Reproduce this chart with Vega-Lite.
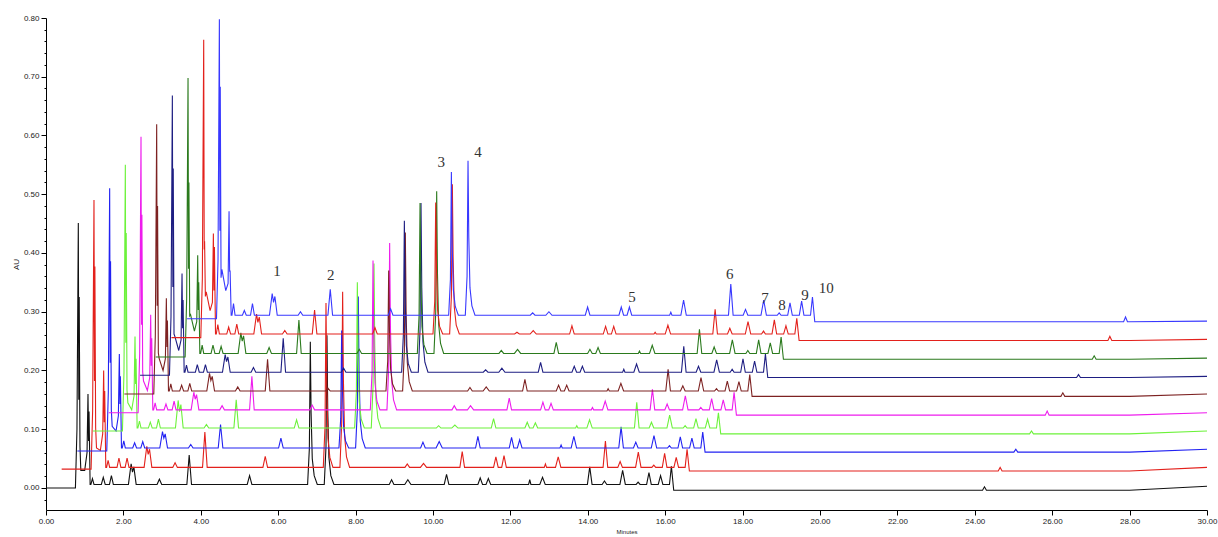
{
"$schema":"https://vega.github.io/schema/vega-lite/v6.json",
"width":1161,"height":492,
"autosize":{"type":"none"},
"padding":{"left":46,"top":18,"right":11,"bottom":27},
"background":"white",
"config":{"view":{"stroke":null},"axis":{"labelFont":"Liberation Sans","titleFont":"Liberation Sans","labelOverlap":false}},
"resolve":{"axis":{"y":"independent"}},
"layer":[
{"data":{"values":[
{"k":0,"t":0,"v":0},{"k":0,"t":0.76,"v":0},{"k":0,"t":0.8,"v":0.1},{"k":0,"t":0.835,"v":0.451},{"k":0,"t":0.848,"v":0.15},{"k":0,"t":0.858,"v":0.325},{"k":0,"t":0.878,"v":0.07},{"k":0,"t":0.9,"v":0.03},{"k":0,"t":1.0,"v":0.03},{"k":0,"t":1.06,"v":0.06},{"k":0,"t":1.085,"v":0.16},{"k":0,"t":1.1,"v":0.08},{"k":0,"t":1.112,"v":0.13},{"k":0,"t":1.14,"v":0.006},
{"k":0,"t":1.16,"v":0.006},{"k":0,"t":1.2,"v":0.016},{"k":0,"t":1.24,"v":0.006},{"k":0,"t":1.43,"v":0.006},{"k":0,"t":1.48,"v":0.018},{"k":0,"t":1.53,"v":0.006},{"k":0,"t":1.64,"v":0.006},{"k":0,"t":1.69,"v":0.021},{"k":0,"t":1.74,"v":0.006},
{"k":0,"t":2.13,"v":0.006},{"k":0,"t":2.2,"v":0.041},{"k":0,"t":2.235,"v":0.027},{"k":0,"t":2.27,"v":0.036},{"k":0,"t":2.33,"v":0.006},{"k":0,"t":2.87,"v":0.006},{"k":0,"t":2.93,"v":0.015},{"k":0,"t":2.99,"v":0.006},{"k":0,"t":3.64,"v":0.006},{"k":0,"t":3.7,"v":0.056},{"k":0,"t":3.76,"v":0.006},{"k":0,"t":5.2,"v":0.006},{"k":0,"t":5.26,"v":0.021},{"k":0,"t":5.32,"v":0.006},
{"k":0,"t":6.76,"v":0.006},{"k":0,"t":6.805,"v":0.067},{"k":0,"t":6.83,"v":0.249},{"k":0,"t":6.85,"v":0.128},{"k":0,"t":6.88,"v":0.05},{"k":0,"t":6.93,"v":0.021},{"k":0,"t":7.01,"v":0.006},
{"k":0,"t":7.19,"v":0.006},{"k":0,"t":7.235,"v":0.07},{"k":0,"t":7.26,"v":0.26},{"k":0,"t":7.28,"v":0.133},{"k":0,"t":7.31,"v":0.052},{"k":0,"t":7.36,"v":0.021},{"k":0,"t":7.44,"v":0.006},
{"k":0,"t":8.87,"v":0.006},{"k":0,"t":8.93,"v":0.014},{"k":0,"t":8.99,"v":0.006},{"k":0,"t":9.27,"v":0.006},{"k":0,"t":9.35,"v":0.014},{"k":0,"t":9.43,"v":0.006},{"k":0,"t":10.29,"v":0.006},{"k":0,"t":10.35,"v":0.023},{"k":0,"t":10.41,"v":0.006},{"k":0,"t":11.16,"v":0.006},{"k":0,"t":11.22,"v":0.017},{"k":0,"t":11.28,"v":0.006},{"k":0,"t":11.37,"v":0.006},{"k":0,"t":11.43,"v":0.016},{"k":0,"t":11.49,"v":0.006},
{"k":0,"t":12.47,"v":0.006},{"k":0,"t":12.5,"v":0.014},{"k":0,"t":12.53,"v":0.006},{"k":0,"t":12.76,"v":0.006},{"k":0,"t":12.83,"v":0.018},{"k":0,"t":12.9,"v":0.006},{"k":0,"t":13.99,"v":0.006},{"k":0,"t":14.05,"v":0.036},{"k":0,"t":14.11,"v":0.006},{"k":0,"t":14.37,"v":0.006},{"k":0,"t":14.43,"v":0.012},{"k":0,"t":14.49,"v":0.006},{"k":0,"t":14.83,"v":0.006},{"k":0,"t":14.9,"v":0.03},{"k":0,"t":14.97,"v":0.006},
{"k":0,"t":15.25,"v":0.006},{"k":0,"t":15.3,"v":0.01},{"k":0,"t":15.35,"v":0.006},{"k":0,"t":15.52,"v":0.006},{"k":0,"t":15.58,"v":0.026},{"k":0,"t":15.64,"v":0.006},{"k":0,"t":15.82,"v":0.006},{"k":0,"t":15.88,"v":0.021},{"k":0,"t":15.94,"v":0.006},{"k":0,"t":16.11,"v":0.006},{"k":0,"t":16.16,"v":0.037},{"k":0,"t":16.22,"v":-0.004},
{"k":0,"t":24.2,"v":-0.004},{"k":0,"t":24.25,"v":0.002},{"k":0,"t":24.3,"v":-0.004},{"k":0,"t":28,"v":-0.004},{"k":0,"t":30,"v":0.003},

{"k":1,"t":0.405,"v":0.032},{"k":1,"t":1.165,"v":0.032},{"k":1,"t":1.205,"v":0.132},{"k":1,"t":1.24,"v":0.49},{"k":1,"t":1.253,"v":0.182},{"k":1,"t":1.263,"v":0.377},{"k":1,"t":1.283,"v":0.102},{"k":1,"t":1.305,"v":0.068},{"k":1,"t":1.405,"v":0.064},{"k":1,"t":1.465,"v":0.092},{"k":1,"t":1.49,"v":0.2},{"k":1,"t":1.505,"v":0.112},{"k":1,"t":1.517,"v":0.165},{"k":1,"t":1.545,"v":0.035},
{"k":1,"t":1.565,"v":0.035},{"k":1,"t":1.605,"v":0.047},{"k":1,"t":1.645,"v":0.035},{"k":1,"t":1.835,"v":0.035},{"k":1,"t":1.885,"v":0.051},{"k":1,"t":1.935,"v":0.035},{"k":1,"t":2.045,"v":0.035},{"k":1,"t":2.095,"v":0.051},{"k":1,"t":2.145,"v":0.035},
{"k":1,"t":2.535,"v":0.035},{"k":1,"t":2.605,"v":0.071},{"k":1,"t":2.64,"v":0.057},{"k":1,"t":2.675,"v":0.066},{"k":1,"t":2.735,"v":0.035},{"k":1,"t":3.275,"v":0.035},{"k":1,"t":3.335,"v":0.043},{"k":1,"t":3.395,"v":0.035},{"k":1,"t":4.045,"v":0.035},{"k":1,"t":4.105,"v":0.095},{"k":1,"t":4.165,"v":0.035},{"k":1,"t":5.605,"v":0.035},{"k":1,"t":5.665,"v":0.054},{"k":1,"t":5.725,"v":0.035},
{"k":1,"t":7.165,"v":0.035},{"k":1,"t":7.21,"v":0.105},{"k":1,"t":7.235,"v":0.315},{"k":1,"t":7.255,"v":0.175},{"k":1,"t":7.285,"v":0.085},{"k":1,"t":7.335,"v":0.052},{"k":1,"t":7.415,"v":0.035},
{"k":1,"t":7.595,"v":0.035},{"k":1,"t":7.64,"v":0.11},{"k":1,"t":7.665,"v":0.334},{"k":1,"t":7.685,"v":0.184},{"k":1,"t":7.715,"v":0.089},{"k":1,"t":7.765,"v":0.053},{"k":1,"t":7.845,"v":0.035},
{"k":1,"t":9.275,"v":0.035},{"k":1,"t":9.335,"v":0.041},{"k":1,"t":9.395,"v":0.035},{"k":1,"t":9.675,"v":0.035},{"k":1,"t":9.755,"v":0.042},{"k":1,"t":9.835,"v":0.035},{"k":1,"t":10.695,"v":0.035},{"k":1,"t":10.755,"v":0.062},{"k":1,"t":10.815,"v":0.035},{"k":1,"t":11.565,"v":0.035},{"k":1,"t":11.625,"v":0.053},{"k":1,"t":11.685,"v":0.035},{"k":1,"t":11.775,"v":0.035},{"k":1,"t":11.835,"v":0.055},{"k":1,"t":11.895,"v":0.035},
{"k":1,"t":12.875,"v":0.035},{"k":1,"t":12.905,"v":0.041},{"k":1,"t":12.935,"v":0.035},{"k":1,"t":13.165,"v":0.035},{"k":1,"t":13.235,"v":0.053},{"k":1,"t":13.305,"v":0.035},{"k":1,"t":14.395,"v":0.035},{"k":1,"t":14.455,"v":0.08},{"k":1,"t":14.515,"v":0.035},{"k":1,"t":14.775,"v":0.035},{"k":1,"t":14.835,"v":0.045},{"k":1,"t":14.895,"v":0.035},{"k":1,"t":15.235,"v":0.035},{"k":1,"t":15.305,"v":0.061},{"k":1,"t":15.375,"v":0.035},
{"k":1,"t":15.655,"v":0.035},{"k":1,"t":15.705,"v":0.039},{"k":1,"t":15.755,"v":0.035},{"k":1,"t":15.925,"v":0.035},{"k":1,"t":15.985,"v":0.059},{"k":1,"t":16.045,"v":0.035},{"k":1,"t":16.225,"v":0.035},{"k":1,"t":16.285,"v":0.052},{"k":1,"t":16.345,"v":0.035},{"k":1,"t":16.515,"v":0.035},{"k":1,"t":16.565,"v":0.066},{"k":1,"t":16.625,"v":0.029},
{"k":1,"t":24.605,"v":0.029},{"k":1,"t":24.655,"v":0.035},{"k":1,"t":24.705,"v":0.029},{"k":1,"t":28,"v":0.029},{"k":1,"t":30,"v":0.035},

{"k":2,"t":0.81,"v":0.063},{"k":2,"t":1.57,"v":0.063},{"k":2,"t":1.61,"v":0.163},{"k":2,"t":1.645,"v":0.51},{"k":2,"t":1.658,"v":0.213},{"k":2,"t":1.668,"v":0.386},{"k":2,"t":1.688,"v":0.133},{"k":2,"t":1.71,"v":0.105},{"k":2,"t":1.81,"v":0.097},{"k":2,"t":1.87,"v":0.123},{"k":2,"t":1.895,"v":0.228},{"k":2,"t":1.91,"v":0.143},{"k":2,"t":1.922,"v":0.19},{"k":2,"t":1.95,"v":0.068},
{"k":2,"t":1.97,"v":0.068},{"k":2,"t":2.01,"v":0.08},{"k":2,"t":2.05,"v":0.068},{"k":2,"t":2.24,"v":0.068},{"k":2,"t":2.29,"v":0.077},{"k":2,"t":2.34,"v":0.068},{"k":2,"t":2.45,"v":0.068},{"k":2,"t":2.5,"v":0.079},{"k":2,"t":2.55,"v":0.068},
{"k":2,"t":2.94,"v":0.068},{"k":2,"t":3.01,"v":0.096},{"k":2,"t":3.045,"v":0.085},{"k":2,"t":3.08,"v":0.092},{"k":2,"t":3.14,"v":0.068},{"k":2,"t":3.68,"v":0.068},{"k":2,"t":3.74,"v":0.074},{"k":2,"t":3.8,"v":0.068},{"k":2,"t":4.45,"v":0.068},{"k":2,"t":4.51,"v":0.108},{"k":2,"t":4.57,"v":0.068},{"k":2,"t":6.01,"v":0.068},{"k":2,"t":6.07,"v":0.085},{"k":2,"t":6.13,"v":0.068},
{"k":2,"t":7.57,"v":0.068},{"k":2,"t":7.615,"v":0.118},{"k":2,"t":7.64,"v":0.268},{"k":2,"t":7.66,"v":0.168},{"k":2,"t":7.69,"v":0.104},{"k":2,"t":7.74,"v":0.08},{"k":2,"t":7.82,"v":0.068},
{"k":2,"t":8.0,"v":0.068},{"k":2,"t":8.045,"v":0.133},{"k":2,"t":8.07,"v":0.326},{"k":2,"t":8.09,"v":0.197},{"k":2,"t":8.12,"v":0.114},{"k":2,"t":8.17,"v":0.084},{"k":2,"t":8.25,"v":0.068},
{"k":2,"t":9.68,"v":0.068},{"k":2,"t":9.74,"v":0.078},{"k":2,"t":9.8,"v":0.068},{"k":2,"t":10.08,"v":0.068},{"k":2,"t":10.16,"v":0.079},{"k":2,"t":10.24,"v":0.068},{"k":2,"t":11.1,"v":0.068},{"k":2,"t":11.16,"v":0.088},{"k":2,"t":11.22,"v":0.068},{"k":2,"t":11.97,"v":0.068},{"k":2,"t":12.03,"v":0.086},{"k":2,"t":12.09,"v":0.068},{"k":2,"t":12.18,"v":0.068},{"k":2,"t":12.24,"v":0.082},{"k":2,"t":12.3,"v":0.068},
{"k":2,"t":13.28,"v":0.068},{"k":2,"t":13.31,"v":0.073},{"k":2,"t":13.34,"v":0.068},{"k":2,"t":13.57,"v":0.068},{"k":2,"t":13.64,"v":0.088},{"k":2,"t":13.71,"v":0.068},{"k":2,"t":14.8,"v":0.068},{"k":2,"t":14.86,"v":0.104},{"k":2,"t":14.92,"v":0.068},{"k":2,"t":15.18,"v":0.068},{"k":2,"t":15.24,"v":0.078},{"k":2,"t":15.3,"v":0.068},{"k":2,"t":15.64,"v":0.068},{"k":2,"t":15.71,"v":0.089},{"k":2,"t":15.78,"v":0.068},
{"k":2,"t":16.06,"v":0.068},{"k":2,"t":16.11,"v":0.072},{"k":2,"t":16.16,"v":0.068},{"k":2,"t":16.33,"v":0.068},{"k":2,"t":16.39,"v":0.087},{"k":2,"t":16.45,"v":0.068},{"k":2,"t":16.63,"v":0.068},{"k":2,"t":16.69,"v":0.085},{"k":2,"t":16.75,"v":0.068},{"k":2,"t":16.92,"v":0.068},{"k":2,"t":16.97,"v":0.095},{"k":2,"t":17.03,"v":0.061},
{"k":2,"t":25.01,"v":0.061},{"k":2,"t":25.06,"v":0.066},{"k":2,"t":25.11,"v":0.061},{"k":2,"t":28,"v":0.061},{"k":2,"t":30,"v":0.066},

{"k":3,"t":1.215,"v":0.097},{"k":3,"t":1.975,"v":0.097},{"k":3,"t":2.015,"v":0.197},{"k":3,"t":2.05,"v":0.55},{"k":3,"t":2.063,"v":0.247},{"k":3,"t":2.073,"v":0.434},{"k":3,"t":2.093,"v":0.167},{"k":3,"t":2.115,"v":0.145},{"k":3,"t":2.215,"v":0.133},{"k":3,"t":2.275,"v":0.157},{"k":3,"t":2.3,"v":0.258},{"k":3,"t":2.315,"v":0.177},{"k":3,"t":2.327,"v":0.22},{"k":3,"t":2.355,"v":0.102},
{"k":3,"t":2.375,"v":0.102},{"k":3,"t":2.415,"v":0.114},{"k":3,"t":2.455,"v":0.102},{"k":3,"t":2.645,"v":0.102},{"k":3,"t":2.695,"v":0.112},{"k":3,"t":2.745,"v":0.102},{"k":3,"t":2.855,"v":0.102},{"k":3,"t":2.905,"v":0.117},{"k":3,"t":2.955,"v":0.102},
{"k":3,"t":3.345,"v":0.102},{"k":3,"t":3.415,"v":0.149},{"k":3,"t":3.45,"v":0.13},{"k":3,"t":3.485,"v":0.142},{"k":3,"t":3.545,"v":0.102},{"k":3,"t":4.085,"v":0.102},{"k":3,"t":4.145,"v":0.108},{"k":3,"t":4.205,"v":0.102},{"k":3,"t":4.855,"v":0.102},{"k":3,"t":4.915,"v":0.15},{"k":3,"t":4.975,"v":0.102},{"k":3,"t":6.415,"v":0.102},{"k":3,"t":6.475,"v":0.116},{"k":3,"t":6.535,"v":0.102},
{"k":3,"t":7.975,"v":0.102},{"k":3,"t":8.02,"v":0.164},{"k":3,"t":8.045,"v":0.35},{"k":3,"t":8.065,"v":0.226},{"k":3,"t":8.095,"v":0.147},{"k":3,"t":8.145,"v":0.117},{"k":3,"t":8.225,"v":0.102},
{"k":3,"t":8.405,"v":0.102},{"k":3,"t":8.45,"v":0.172},{"k":3,"t":8.475,"v":0.382},{"k":3,"t":8.495,"v":0.242},{"k":3,"t":8.525,"v":0.152},{"k":3,"t":8.575,"v":0.119},{"k":3,"t":8.655,"v":0.102},
{"k":3,"t":10.085,"v":0.102},{"k":3,"t":10.145,"v":0.106},{"k":3,"t":10.205,"v":0.102},{"k":3,"t":10.485,"v":0.102},{"k":3,"t":10.565,"v":0.107},{"k":3,"t":10.645,"v":0.102},{"k":3,"t":11.505,"v":0.102},{"k":3,"t":11.565,"v":0.118},{"k":3,"t":11.625,"v":0.102},{"k":3,"t":12.375,"v":0.102},{"k":3,"t":12.435,"v":0.112},{"k":3,"t":12.495,"v":0.102},{"k":3,"t":12.585,"v":0.102},{"k":3,"t":12.645,"v":0.111},{"k":3,"t":12.705,"v":0.102},
{"k":3,"t":13.685,"v":0.102},{"k":3,"t":13.715,"v":0.106},{"k":3,"t":13.745,"v":0.102},{"k":3,"t":13.975,"v":0.102},{"k":3,"t":14.045,"v":0.116},{"k":3,"t":14.115,"v":0.102},{"k":3,"t":15.205,"v":0.102},{"k":3,"t":15.265,"v":0.146},{"k":3,"t":15.325,"v":0.102},{"k":3,"t":15.585,"v":0.102},{"k":3,"t":15.645,"v":0.112},{"k":3,"t":15.705,"v":0.102},{"k":3,"t":16.045,"v":0.102},{"k":3,"t":16.115,"v":0.124},{"k":3,"t":16.185,"v":0.102},
{"k":3,"t":16.465,"v":0.102},{"k":3,"t":16.515,"v":0.106},{"k":3,"t":16.565,"v":0.102},{"k":3,"t":16.735,"v":0.102},{"k":3,"t":16.795,"v":0.118},{"k":3,"t":16.855,"v":0.102},{"k":3,"t":17.035,"v":0.102},{"k":3,"t":17.095,"v":0.117},{"k":3,"t":17.155,"v":0.102},{"k":3,"t":17.325,"v":0.102},{"k":3,"t":17.375,"v":0.128},{"k":3,"t":17.435,"v":0.092},
{"k":3,"t":25.415,"v":0.092},{"k":3,"t":25.465,"v":0.097},{"k":3,"t":25.515,"v":0.092},{"k":3,"t":28,"v":0.092},{"k":3,"t":30,"v":0.097},

{"k":4,"t":1.62,"v":0.128},{"k":4,"t":2.38,"v":0.128},{"k":4,"t":2.42,"v":0.228},{"k":4,"t":2.455,"v":0.598},{"k":4,"t":2.468,"v":0.278},{"k":4,"t":2.478,"v":0.465},{"k":4,"t":2.498,"v":0.198},{"k":4,"t":2.52,"v":0.182},{"k":4,"t":2.62,"v":0.166},{"k":4,"t":2.68,"v":0.188},{"k":4,"t":2.705,"v":0.295},{"k":4,"t":2.72,"v":0.208},{"k":4,"t":2.732,"v":0.255},{"k":4,"t":2.76,"v":0.133},
{"k":4,"t":2.78,"v":0.133},{"k":4,"t":2.82,"v":0.145},{"k":4,"t":2.86,"v":0.133},{"k":4,"t":3.05,"v":0.133},{"k":4,"t":3.1,"v":0.143},{"k":4,"t":3.15,"v":0.133},{"k":4,"t":3.26,"v":0.133},{"k":4,"t":3.31,"v":0.148},{"k":4,"t":3.36,"v":0.133},
{"k":4,"t":3.75,"v":0.133},{"k":4,"t":3.82,"v":0.163},{"k":4,"t":3.855,"v":0.151},{"k":4,"t":3.89,"v":0.159},{"k":4,"t":3.95,"v":0.133},{"k":4,"t":4.49,"v":0.133},{"k":4,"t":4.55,"v":0.14},{"k":4,"t":4.61,"v":0.133},{"k":4,"t":5.26,"v":0.133},{"k":4,"t":5.32,"v":0.19},{"k":4,"t":5.38,"v":0.133},{"k":4,"t":6.82,"v":0.133},{"k":4,"t":6.88,"v":0.141},{"k":4,"t":6.94,"v":0.133},
{"k":4,"t":8.38,"v":0.133},{"k":4,"t":8.425,"v":0.197},{"k":4,"t":8.45,"v":0.387},{"k":4,"t":8.47,"v":0.26},{"k":4,"t":8.5,"v":0.179},{"k":4,"t":8.55,"v":0.148},{"k":4,"t":8.63,"v":0.133},
{"k":4,"t":8.81,"v":0.133},{"k":4,"t":8.855,"v":0.204},{"k":4,"t":8.88,"v":0.417},{"k":4,"t":8.9,"v":0.275},{"k":4,"t":8.93,"v":0.184},{"k":4,"t":8.98,"v":0.15},{"k":4,"t":9.06,"v":0.133},
{"k":4,"t":10.49,"v":0.133},{"k":4,"t":10.55,"v":0.14},{"k":4,"t":10.61,"v":0.133},{"k":4,"t":10.89,"v":0.133},{"k":4,"t":10.97,"v":0.14},{"k":4,"t":11.05,"v":0.133},{"k":4,"t":11.91,"v":0.133},{"k":4,"t":11.97,"v":0.153},{"k":4,"t":12.03,"v":0.133},{"k":4,"t":12.78,"v":0.133},{"k":4,"t":12.84,"v":0.146},{"k":4,"t":12.9,"v":0.133},{"k":4,"t":12.99,"v":0.133},{"k":4,"t":13.05,"v":0.144},{"k":4,"t":13.11,"v":0.133},
{"k":4,"t":14.09,"v":0.133},{"k":4,"t":14.12,"v":0.137},{"k":4,"t":14.15,"v":0.133},{"k":4,"t":14.38,"v":0.133},{"k":4,"t":14.45,"v":0.148},{"k":4,"t":14.52,"v":0.133},{"k":4,"t":15.61,"v":0.133},{"k":4,"t":15.67,"v":0.168},{"k":4,"t":15.73,"v":0.133},{"k":4,"t":15.99,"v":0.133},{"k":4,"t":16.05,"v":0.143},{"k":4,"t":16.11,"v":0.133},{"k":4,"t":16.45,"v":0.133},{"k":4,"t":16.52,"v":0.157},{"k":4,"t":16.59,"v":0.133},
{"k":4,"t":16.87,"v":0.133},{"k":4,"t":16.92,"v":0.137},{"k":4,"t":16.97,"v":0.133},{"k":4,"t":17.14,"v":0.133},{"k":4,"t":17.2,"v":0.152},{"k":4,"t":17.26,"v":0.133},{"k":4,"t":17.44,"v":0.133},{"k":4,"t":17.5,"v":0.15},{"k":4,"t":17.56,"v":0.133},{"k":4,"t":17.73,"v":0.133},{"k":4,"t":17.78,"v":0.163},{"k":4,"t":17.84,"v":0.124},
{"k":4,"t":25.82,"v":0.124},{"k":4,"t":25.87,"v":0.131},{"k":4,"t":25.92,"v":0.124},{"k":4,"t":28,"v":0.124},{"k":4,"t":30,"v":0.128},

{"k":5,"t":2.025,"v":0.16},{"k":5,"t":2.785,"v":0.16},{"k":5,"t":2.825,"v":0.26},{"k":5,"t":2.86,"v":0.619},{"k":5,"t":2.873,"v":0.31},{"k":5,"t":2.883,"v":0.48},{"k":5,"t":2.903,"v":0.23},{"k":5,"t":2.925,"v":0.22},{"k":5,"t":3.025,"v":0.2},{"k":5,"t":3.085,"v":0.22},{"k":5,"t":3.11,"v":0.323},{"k":5,"t":3.125,"v":0.24},{"k":5,"t":3.137,"v":0.285},{"k":5,"t":3.165,"v":0.165},
{"k":5,"t":3.185,"v":0.165},{"k":5,"t":3.225,"v":0.177},{"k":5,"t":3.265,"v":0.165},{"k":5,"t":3.455,"v":0.165},{"k":5,"t":3.505,"v":0.175},{"k":5,"t":3.555,"v":0.165},{"k":5,"t":3.665,"v":0.165},{"k":5,"t":3.715,"v":0.178},{"k":5,"t":3.765,"v":0.165},
{"k":5,"t":4.155,"v":0.165},{"k":5,"t":4.225,"v":0.195},{"k":5,"t":4.26,"v":0.183},{"k":5,"t":4.295,"v":0.19},{"k":5,"t":4.355,"v":0.165},{"k":5,"t":4.895,"v":0.165},{"k":5,"t":4.955,"v":0.172},{"k":5,"t":5.015,"v":0.165},{"k":5,"t":5.665,"v":0.165},{"k":5,"t":5.725,"v":0.219},{"k":5,"t":5.785,"v":0.165},{"k":5,"t":7.225,"v":0.165},{"k":5,"t":7.285,"v":0.17},{"k":5,"t":7.345,"v":0.165},
{"k":5,"t":8.785,"v":0.165},{"k":5,"t":8.83,"v":0.216},{"k":5,"t":8.855,"v":0.37},{"k":5,"t":8.875,"v":0.268},{"k":5,"t":8.905,"v":0.202},{"k":5,"t":8.955,"v":0.177},{"k":5,"t":9.035,"v":0.165},
{"k":5,"t":9.215,"v":0.165},{"k":5,"t":9.26,"v":0.233},{"k":5,"t":9.285,"v":0.435},{"k":5,"t":9.305,"v":0.3},{"k":5,"t":9.335,"v":0.214},{"k":5,"t":9.385,"v":0.181},{"k":5,"t":9.465,"v":0.165},
{"k":5,"t":10.895,"v":0.165},{"k":5,"t":10.955,"v":0.171},{"k":5,"t":11.015,"v":0.165},{"k":5,"t":11.295,"v":0.165},{"k":5,"t":11.375,"v":0.172},{"k":5,"t":11.455,"v":0.165},{"k":5,"t":12.315,"v":0.165},{"k":5,"t":12.375,"v":0.185},{"k":5,"t":12.435,"v":0.165},{"k":5,"t":13.185,"v":0.165},{"k":5,"t":13.245,"v":0.175},{"k":5,"t":13.305,"v":0.165},{"k":5,"t":13.395,"v":0.165},{"k":5,"t":13.455,"v":0.175},{"k":5,"t":13.515,"v":0.165},
{"k":5,"t":14.495,"v":0.165},{"k":5,"t":14.525,"v":0.169},{"k":5,"t":14.555,"v":0.165},{"k":5,"t":14.785,"v":0.165},{"k":5,"t":14.855,"v":0.178},{"k":5,"t":14.925,"v":0.165},{"k":5,"t":16.015,"v":0.165},{"k":5,"t":16.075,"v":0.202},{"k":5,"t":16.135,"v":0.165},{"k":5,"t":16.395,"v":0.165},{"k":5,"t":16.455,"v":0.174},{"k":5,"t":16.515,"v":0.165},{"k":5,"t":16.855,"v":0.165},{"k":5,"t":16.925,"v":0.188},{"k":5,"t":16.995,"v":0.165},
{"k":5,"t":17.275,"v":0.165},{"k":5,"t":17.325,"v":0.169},{"k":5,"t":17.375,"v":0.165},{"k":5,"t":17.545,"v":0.165},{"k":5,"t":17.605,"v":0.182},{"k":5,"t":17.665,"v":0.165},{"k":5,"t":17.845,"v":0.165},{"k":5,"t":17.905,"v":0.181},{"k":5,"t":17.965,"v":0.165},{"k":5,"t":18.135,"v":0.165},{"k":5,"t":18.185,"v":0.193},{"k":5,"t":18.245,"v":0.156},
{"k":5,"t":26.225,"v":0.156},{"k":5,"t":26.275,"v":0.162},{"k":5,"t":26.325,"v":0.156},{"k":5,"t":28,"v":0.156},{"k":5,"t":30,"v":0.16},

{"k":6,"t":2.43,"v":0.192},{"k":6,"t":3.19,"v":0.192},{"k":6,"t":3.23,"v":0.292},{"k":6,"t":3.265,"v":0.668},{"k":6,"t":3.278,"v":0.342},{"k":6,"t":3.288,"v":0.544},{"k":6,"t":3.308,"v":0.262},{"k":6,"t":3.33,"v":0.258},{"k":6,"t":3.43,"v":0.234},{"k":6,"t":3.49,"v":0.252},{"k":6,"t":3.515,"v":0.365},{"k":6,"t":3.53,"v":0.272},{"k":6,"t":3.542,"v":0.32},{"k":6,"t":3.57,"v":0.197},
{"k":6,"t":3.59,"v":0.197},{"k":6,"t":3.63,"v":0.209},{"k":6,"t":3.67,"v":0.197},{"k":6,"t":3.86,"v":0.197},{"k":6,"t":3.91,"v":0.21},{"k":6,"t":3.96,"v":0.197},{"k":6,"t":4.07,"v":0.197},{"k":6,"t":4.12,"v":0.21},{"k":6,"t":4.17,"v":0.197},
{"k":6,"t":4.56,"v":0.197},{"k":6,"t":4.63,"v":0.227},{"k":6,"t":4.665,"v":0.215},{"k":6,"t":4.7,"v":0.223},{"k":6,"t":4.76,"v":0.197},{"k":6,"t":5.3,"v":0.197},{"k":6,"t":5.36,"v":0.205},{"k":6,"t":5.42,"v":0.197},{"k":6,"t":6.07,"v":0.197},{"k":6,"t":6.13,"v":0.255},{"k":6,"t":6.19,"v":0.197},{"k":6,"t":7.63,"v":0.197},{"k":6,"t":7.69,"v":0.204},{"k":6,"t":7.75,"v":0.197},
{"k":6,"t":9.19,"v":0.197},{"k":6,"t":9.235,"v":0.262},{"k":6,"t":9.26,"v":0.455},{"k":6,"t":9.28,"v":0.326},{"k":6,"t":9.31,"v":0.243},{"k":6,"t":9.36,"v":0.212},{"k":6,"t":9.44,"v":0.197},
{"k":6,"t":9.62,"v":0.197},{"k":6,"t":9.665,"v":0.269},{"k":6,"t":9.69,"v":0.485},{"k":6,"t":9.71,"v":0.341},{"k":6,"t":9.74,"v":0.249},{"k":6,"t":9.79,"v":0.214},{"k":6,"t":9.87,"v":0.197},
{"k":6,"t":11.3,"v":0.197},{"k":6,"t":11.36,"v":0.201},{"k":6,"t":11.42,"v":0.197},{"k":6,"t":11.7,"v":0.197},{"k":6,"t":11.78,"v":0.204},{"k":6,"t":11.86,"v":0.197},{"k":6,"t":12.72,"v":0.197},{"k":6,"t":12.78,"v":0.214},{"k":6,"t":12.84,"v":0.197},{"k":6,"t":13.59,"v":0.197},{"k":6,"t":13.65,"v":0.207},{"k":6,"t":13.71,"v":0.197},{"k":6,"t":13.8,"v":0.197},{"k":6,"t":13.86,"v":0.207},{"k":6,"t":13.92,"v":0.197},
{"k":6,"t":14.9,"v":0.197},{"k":6,"t":14.93,"v":0.202},{"k":6,"t":14.96,"v":0.197},{"k":6,"t":15.19,"v":0.197},{"k":6,"t":15.26,"v":0.211},{"k":6,"t":15.33,"v":0.197},{"k":6,"t":16.42,"v":0.197},{"k":6,"t":16.48,"v":0.241},{"k":6,"t":16.54,"v":0.197},{"k":6,"t":16.8,"v":0.197},{"k":6,"t":16.86,"v":0.207},{"k":6,"t":16.92,"v":0.197},{"k":6,"t":17.26,"v":0.197},{"k":6,"t":17.33,"v":0.218},{"k":6,"t":17.4,"v":0.197},
{"k":6,"t":17.68,"v":0.197},{"k":6,"t":17.73,"v":0.202},{"k":6,"t":17.78,"v":0.197},{"k":6,"t":17.95,"v":0.197},{"k":6,"t":18.01,"v":0.22},{"k":6,"t":18.07,"v":0.197},{"k":6,"t":18.25,"v":0.197},{"k":6,"t":18.31,"v":0.216},{"k":6,"t":18.37,"v":0.197},{"k":6,"t":18.54,"v":0.197},{"k":6,"t":18.59,"v":0.228},{"k":6,"t":18.65,"v":0.188},
{"k":6,"t":26.63,"v":0.188},{"k":6,"t":26.68,"v":0.193},{"k":6,"t":26.73,"v":0.188},{"k":6,"t":28,"v":0.188},{"k":6,"t":30,"v":0.19},

{"k":7,"t":2.835,"v":0.223},{"k":7,"t":3.595,"v":0.223},{"k":7,"t":3.635,"v":0.323},{"k":7,"t":3.67,"v":0.698},{"k":7,"t":3.683,"v":0.373},{"k":7,"t":3.693,"v":0.52},{"k":7,"t":3.713,"v":0.293},{"k":7,"t":3.735,"v":0.295},{"k":7,"t":3.835,"v":0.267},{"k":7,"t":3.895,"v":0.283},{"k":7,"t":3.92,"v":0.396},{"k":7,"t":3.935,"v":0.303},{"k":7,"t":3.947,"v":0.35},{"k":7,"t":3.975,"v":0.229},
{"k":7,"t":3.995,"v":0.229},{"k":7,"t":4.035,"v":0.243},{"k":7,"t":4.075,"v":0.229},{"k":7,"t":4.265,"v":0.229},{"k":7,"t":4.315,"v":0.243},{"k":7,"t":4.365,"v":0.229},{"k":7,"t":4.475,"v":0.229},{"k":7,"t":4.525,"v":0.241},{"k":7,"t":4.575,"v":0.229},
{"k":7,"t":4.965,"v":0.229},{"k":7,"t":5.035,"v":0.264},{"k":7,"t":5.07,"v":0.25},{"k":7,"t":5.105,"v":0.259},{"k":7,"t":5.165,"v":0.229},{"k":7,"t":5.705,"v":0.229},{"k":7,"t":5.765,"v":0.239},{"k":7,"t":5.825,"v":0.229},{"k":7,"t":6.475,"v":0.229},{"k":7,"t":6.535,"v":0.286},{"k":7,"t":6.595,"v":0.229},{"k":7,"t":8.035,"v":0.229},{"k":7,"t":8.095,"v":0.236},{"k":7,"t":8.155,"v":0.229},
{"k":7,"t":9.595,"v":0.229},{"k":7,"t":9.64,"v":0.293},{"k":7,"t":9.665,"v":0.485},{"k":7,"t":9.685,"v":0.357},{"k":7,"t":9.715,"v":0.275},{"k":7,"t":9.765,"v":0.244},{"k":7,"t":9.845,"v":0.229},
{"k":7,"t":10.025,"v":0.229},{"k":7,"t":10.07,"v":0.298},{"k":7,"t":10.095,"v":0.505},{"k":7,"t":10.115,"v":0.367},{"k":7,"t":10.145,"v":0.279},{"k":7,"t":10.195,"v":0.246},{"k":7,"t":10.275,"v":0.229},
{"k":7,"t":11.705,"v":0.229},{"k":7,"t":11.765,"v":0.234},{"k":7,"t":11.825,"v":0.229},{"k":7,"t":12.105,"v":0.229},{"k":7,"t":12.185,"v":0.236},{"k":7,"t":12.265,"v":0.229},{"k":7,"t":13.125,"v":0.229},{"k":7,"t":13.185,"v":0.248},{"k":7,"t":13.245,"v":0.229},{"k":7,"t":13.995,"v":0.229},{"k":7,"t":14.055,"v":0.236},{"k":7,"t":14.115,"v":0.229},{"k":7,"t":14.205,"v":0.229},{"k":7,"t":14.265,"v":0.239},{"k":7,"t":14.325,"v":0.229},
{"k":7,"t":15.305,"v":0.229},{"k":7,"t":15.335,"v":0.233},{"k":7,"t":15.365,"v":0.229},{"k":7,"t":15.595,"v":0.229},{"k":7,"t":15.665,"v":0.243},{"k":7,"t":15.735,"v":0.229},{"k":7,"t":16.825,"v":0.229},{"k":7,"t":16.885,"v":0.27},{"k":7,"t":16.945,"v":0.229},{"k":7,"t":17.205,"v":0.229},{"k":7,"t":17.265,"v":0.24},{"k":7,"t":17.325,"v":0.229},{"k":7,"t":17.665,"v":0.229},{"k":7,"t":17.735,"v":0.252},{"k":7,"t":17.805,"v":0.229},
{"k":7,"t":18.085,"v":0.229},{"k":7,"t":18.135,"v":0.234},{"k":7,"t":18.185,"v":0.229},{"k":7,"t":18.355,"v":0.229},{"k":7,"t":18.415,"v":0.252},{"k":7,"t":18.475,"v":0.229},{"k":7,"t":18.655,"v":0.229},{"k":7,"t":18.715,"v":0.247},{"k":7,"t":18.775,"v":0.229},{"k":7,"t":18.945,"v":0.229},{"k":7,"t":18.995,"v":0.257},{"k":7,"t":19.055,"v":0.219},
{"k":7,"t":27.035,"v":0.219},{"k":7,"t":27.085,"v":0.225},{"k":7,"t":27.135,"v":0.219},{"k":7,"t":28,"v":0.219},{"k":7,"t":30,"v":0.221},

{"k":8,"t":3.24,"v":0.256},{"k":8,"t":4.0,"v":0.256},{"k":8,"t":4.04,"v":0.356},{"k":8,"t":4.075,"v":0.763},{"k":8,"t":4.088,"v":0.406},{"k":8,"t":4.098,"v":0.42},{"k":8,"t":4.118,"v":0.326},{"k":8,"t":4.14,"v":0.334},{"k":8,"t":4.24,"v":0.302},{"k":8,"t":4.3,"v":0.316},{"k":8,"t":4.325,"v":0.433},{"k":8,"t":4.34,"v":0.336},{"k":8,"t":4.352,"v":0.41},{"k":8,"t":4.38,"v":0.262},
{"k":8,"t":4.4,"v":0.262},{"k":8,"t":4.44,"v":0.278},{"k":8,"t":4.48,"v":0.262},{"k":8,"t":4.67,"v":0.262},{"k":8,"t":4.72,"v":0.274},{"k":8,"t":4.77,"v":0.262},{"k":8,"t":4.88,"v":0.262},{"k":8,"t":4.93,"v":0.279},{"k":8,"t":4.98,"v":0.262},
{"k":8,"t":5.37,"v":0.262},{"k":8,"t":5.44,"v":0.296},{"k":8,"t":5.475,"v":0.282},{"k":8,"t":5.51,"v":0.291},{"k":8,"t":5.57,"v":0.262},{"k":8,"t":6.11,"v":0.262},{"k":8,"t":6.17,"v":0.268},{"k":8,"t":6.23,"v":0.262},{"k":8,"t":6.88,"v":0.262},{"k":8,"t":6.94,"v":0.303},{"k":8,"t":7.0,"v":0.262},{"k":8,"t":8.44,"v":0.262},{"k":8,"t":8.5,"v":0.273},{"k":8,"t":8.56,"v":0.262},
{"k":8,"t":10.0,"v":0.262},{"k":8,"t":10.045,"v":0.318},{"k":8,"t":10.07,"v":0.486},{"k":8,"t":10.09,"v":0.374},{"k":8,"t":10.12,"v":0.302},{"k":8,"t":10.17,"v":0.275},{"k":8,"t":10.25,"v":0.262},
{"k":8,"t":10.43,"v":0.262},{"k":8,"t":10.475,"v":0.326},{"k":8,"t":10.5,"v":0.517},{"k":8,"t":10.52,"v":0.39},{"k":8,"t":10.55,"v":0.308},{"k":8,"t":10.6,"v":0.277},{"k":8,"t":10.68,"v":0.262},
{"k":8,"t":12.11,"v":0.262},{"k":8,"t":12.17,"v":0.265},{"k":8,"t":12.23,"v":0.262},{"k":8,"t":12.51,"v":0.262},{"k":8,"t":12.59,"v":0.268},{"k":8,"t":12.67,"v":0.262},{"k":8,"t":13.53,"v":0.262},{"k":8,"t":13.59,"v":0.276},{"k":8,"t":13.65,"v":0.262},{"k":8,"t":14.4,"v":0.262},{"k":8,"t":14.46,"v":0.275},{"k":8,"t":14.52,"v":0.262},{"k":8,"t":14.61,"v":0.262},{"k":8,"t":14.67,"v":0.275},{"k":8,"t":14.73,"v":0.262},
{"k":8,"t":15.71,"v":0.262},{"k":8,"t":15.74,"v":0.265},{"k":8,"t":15.77,"v":0.262},{"k":8,"t":16.0,"v":0.262},{"k":8,"t":16.07,"v":0.277},{"k":8,"t":16.14,"v":0.262},{"k":8,"t":17.23,"v":0.262},{"k":8,"t":17.29,"v":0.304},{"k":8,"t":17.35,"v":0.262},{"k":8,"t":17.61,"v":0.262},{"k":8,"t":17.67,"v":0.272},{"k":8,"t":17.73,"v":0.262},{"k":8,"t":18.07,"v":0.262},{"k":8,"t":18.14,"v":0.283},{"k":8,"t":18.21,"v":0.262},
{"k":8,"t":18.49,"v":0.262},{"k":8,"t":18.54,"v":0.267},{"k":8,"t":18.59,"v":0.262},{"k":8,"t":18.76,"v":0.262},{"k":8,"t":18.82,"v":0.286},{"k":8,"t":18.88,"v":0.262},{"k":8,"t":19.06,"v":0.262},{"k":8,"t":19.12,"v":0.276},{"k":8,"t":19.18,"v":0.262},{"k":8,"t":19.35,"v":0.262},{"k":8,"t":19.4,"v":0.289},{"k":8,"t":19.46,"v":0.251},
{"k":8,"t":27.44,"v":0.251},{"k":8,"t":27.49,"v":0.258},{"k":8,"t":27.54,"v":0.251},{"k":8,"t":28,"v":0.251},{"k":8,"t":30,"v":0.253},

{"k":9,"t":3.645,"v":0.288},{"k":9,"t":4.405,"v":0.288},{"k":9,"t":4.445,"v":0.388},{"k":9,"t":4.48,"v":0.798},{"k":9,"t":4.493,"v":0.438},{"k":9,"t":4.503,"v":0.683},{"k":9,"t":4.523,"v":0.358},{"k":9,"t":4.545,"v":0.372},{"k":9,"t":4.645,"v":0.336},{"k":9,"t":4.705,"v":0.348},{"k":9,"t":4.73,"v":0.471},{"k":9,"t":4.745,"v":0.368},{"k":9,"t":4.757,"v":0.37},{"k":9,"t":4.785,"v":0.294},
{"k":9,"t":4.805,"v":0.294},{"k":9,"t":4.845,"v":0.314},{"k":9,"t":4.885,"v":0.294},{"k":9,"t":5.075,"v":0.294},{"k":9,"t":5.125,"v":0.302},{"k":9,"t":5.175,"v":0.294},{"k":9,"t":5.285,"v":0.294},{"k":9,"t":5.335,"v":0.314},{"k":9,"t":5.385,"v":0.294},
{"k":9,"t":5.775,"v":0.294},{"k":9,"t":5.845,"v":0.331},{"k":9,"t":5.88,"v":0.316},{"k":9,"t":5.915,"v":0.326},{"k":9,"t":5.975,"v":0.294},{"k":9,"t":6.515,"v":0.294},{"k":9,"t":6.575,"v":0.3},{"k":9,"t":6.635,"v":0.294},{"k":9,"t":7.285,"v":0.294},{"k":9,"t":7.345,"v":0.338},{"k":9,"t":7.405,"v":0.294},{"k":9,"t":8.845,"v":0.294},{"k":9,"t":8.905,"v":0.305},{"k":9,"t":8.965,"v":0.294},
{"k":9,"t":10.405,"v":0.294},{"k":9,"t":10.45,"v":0.355},{"k":9,"t":10.475,"v":0.538},{"k":9,"t":10.495,"v":0.416},{"k":9,"t":10.525,"v":0.338},{"k":9,"t":10.575,"v":0.309},{"k":9,"t":10.655,"v":0.294},
{"k":9,"t":10.835,"v":0.294},{"k":9,"t":10.88,"v":0.36},{"k":9,"t":10.905,"v":0.557},{"k":9,"t":10.925,"v":0.426},{"k":9,"t":10.955,"v":0.341},{"k":9,"t":11.005,"v":0.31},{"k":9,"t":11.085,"v":0.294},
{"k":9,"t":12.515,"v":0.294},{"k":9,"t":12.575,"v":0.298},{"k":9,"t":12.635,"v":0.294},{"k":9,"t":12.915,"v":0.294},{"k":9,"t":12.995,"v":0.3},{"k":9,"t":13.075,"v":0.294},{"k":9,"t":13.935,"v":0.294},{"k":9,"t":13.995,"v":0.308},{"k":9,"t":14.055,"v":0.294},{"k":9,"t":14.805,"v":0.294},{"k":9,"t":14.865,"v":0.308},{"k":9,"t":14.925,"v":0.294},{"k":9,"t":15.015,"v":0.294},{"k":9,"t":15.075,"v":0.308},{"k":9,"t":15.135,"v":0.294},
{"k":9,"t":16.115,"v":0.294},{"k":9,"t":16.145,"v":0.299},{"k":9,"t":16.175,"v":0.294},{"k":9,"t":16.405,"v":0.294},{"k":9,"t":16.475,"v":0.32},{"k":9,"t":16.545,"v":0.294},{"k":9,"t":17.635,"v":0.294},{"k":9,"t":17.695,"v":0.347},{"k":9,"t":17.755,"v":0.294},{"k":9,"t":18.015,"v":0.294},{"k":9,"t":18.075,"v":0.304},{"k":9,"t":18.135,"v":0.294},{"k":9,"t":18.475,"v":0.294},{"k":9,"t":18.545,"v":0.32},{"k":9,"t":18.615,"v":0.294},
{"k":9,"t":18.895,"v":0.294},{"k":9,"t":18.945,"v":0.298},{"k":9,"t":18.995,"v":0.294},{"k":9,"t":19.165,"v":0.294},{"k":9,"t":19.225,"v":0.315},{"k":9,"t":19.285,"v":0.294},{"k":9,"t":19.465,"v":0.294},{"k":9,"t":19.525,"v":0.318},{"k":9,"t":19.585,"v":0.294},{"k":9,"t":19.755,"v":0.294},{"k":9,"t":19.805,"v":0.325},{"k":9,"t":19.865,"v":0.283},
{"k":9,"t":27.845,"v":0.283},{"k":9,"t":27.895,"v":0.291},{"k":9,"t":27.945,"v":0.283},{"k":9,"t":28,"v":0.283},{"k":9,"t":30,"v":0.284}
]},
"mark":{"type":"line","strokeWidth":1.1},
"encoding":{
"x":{"field":"t","type":"quantitative","scale":{"domain":[0,30],"nice":false,"zero":false},
"axis":{"values":[0,0.5,1,1.5,2,2.5,3,3.5,4,4.5,5,5.5,6,6.5,7,7.5,8,8.5,9,9.5,10,10.5,11,11.5,12,12.5,13,13.5,14,14.5,15,15.5,16,16.5,17,17.5,18,18.5,19,19.5,20,20.5,21,21.5,22,22.5,23,23.5,24,24.5,25,25.5,26,26.5,27,27.5,28,28.5,29,29.5,30],
"labelExpr":"datum.value % 2 === 0 ? format(datum.value, '.2f') : ''",
"tickSize":{"condition":{"test":"datum.value % 2 === 0","value":5},"value":3},
"labelFontSize":8,"labelColor":"#222","labelPadding":2,"labelOverlap":false,"labelFlush":false,"domainColor":"#000","tickColor":"#000","grid":false,
"title":"Minutes","titleFontSize":6,"titleFontWeight":"normal","titleColor":"#222","titlePadding":3}},
"y":{"field":"v","type":"quantitative","scale":{"domain":[-0.0375,0.8],"nice":false,"zero":false},
"axis":{"orient":"left","values":[0,0.1,0.2,0.3,0.4,0.5,0.6,0.7,0.8],"format":".2f","tickSize":5,
"labelFontSize":8,"labelColor":"#222","labelPadding":2,"labelOverlap":false,"labelFlush":false,"domainColor":"#000","tickColor":"#000","grid":false,
"title":"AU","titleFontSize":8,"titleFontWeight":"normal","titleColor":"#222","titlePadding":3}},
"color":{"field":"k","type":"nominal","legend":null,"scale":{"domain":[0,1,2,3,4,5,6,7,8,9],"range":["#111111","#e3211c","#2222f2","#6cf23a","#ee1ced","#7d2222","#1e1e82","#2b7a1d","#e3211c","#3838ff"]}}
}},
{"data":{"values":[
{"label":"1","t":5.97,"v":0.369},{"label":"2","t":7.36,"v":0.363},{"label":"3","t":10.21,"v":0.555},{"label":"4","t":11.16,"v":0.572},{"label":"5","t":15.14,"v":0.325},{"label":"6","t":17.67,"v":0.364},{"label":"7","t":18.58,"v":0.323},{"label":"8","t":19.02,"v":0.311},{"label":"9","t":19.61,"v":0.329},{"label":"10","t":20.16,"v":0.34}
]},
"mark":{"type":"text","font":"Liberation Serif","fontSize":15,"color":"#333333","align":"center","baseline":"middle"},
"encoding":{"x":{"field":"t","type":"quantitative"},"y":{"field":"v","type":"quantitative",
"axis":{"orient":"left","values":[-0.02,0.02,0.04,0.06,0.08,0.12,0.14,0.16,0.18,0.22,0.24,0.26,0.28,0.32,0.34,0.36,0.38,0.42,0.44,0.46,0.48,0.52,0.54,0.56,0.58,0.62,0.64,0.66,0.68,0.72,0.74,0.76,0.78],"labels":false,"domain":false,"title":null,"tickSize":2,"tickColor":"#000","grid":false}},"text":{"field":"label"}}}
]
}
